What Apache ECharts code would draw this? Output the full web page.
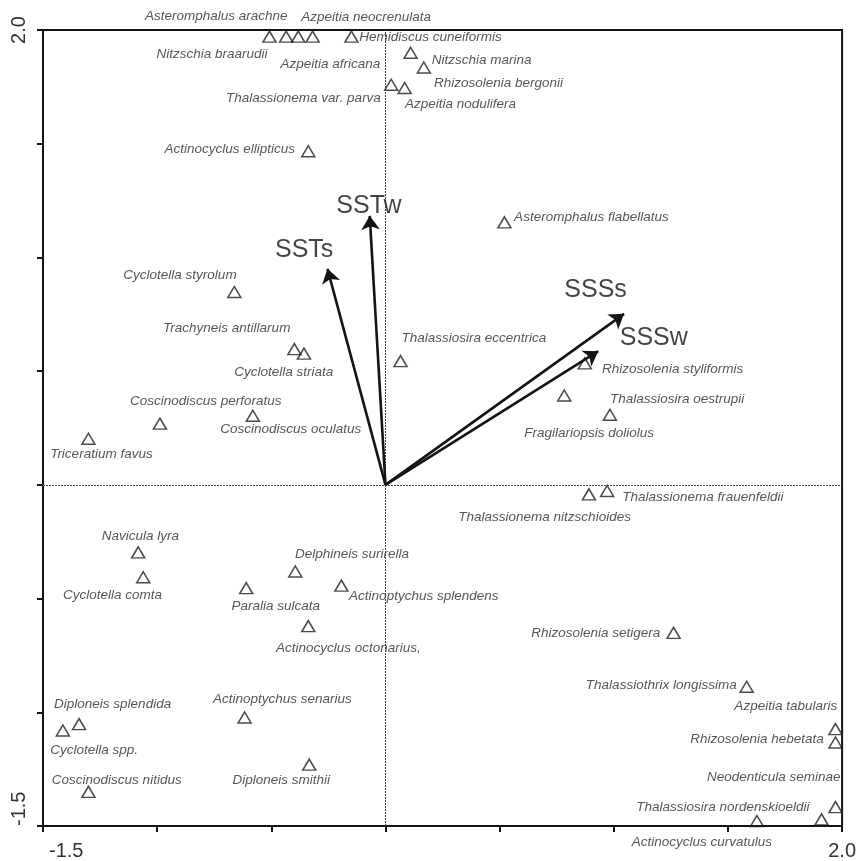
<!DOCTYPE html>
<html><head><meta charset="utf-8">
<script src="https://cdn.jsdelivr.net/npm/echarts@6/dist/echarts.min.js"></script>
<style>html,body{margin:0;padding:0;background:#fff;width:100%;height:100%;overflow:hidden}#c{width:100vw;height:100vh}</style>
</head><body><div id="c"></div>
<script>
// ---- data ----
const species = ['Asteromphalus arachne','Nitzschia braarudii','Azpeitia neocrenulata','Azpeitia africana','Hemidiscus cuneiformis','Rhizosolenia bergonii','Nitzschia marina','Thalassionema var. parva','Azpeitia nodulifera','Actinocyclus ellipticus','Asteromphalus flabellatus','Cyclotella styrolum','Trachyneis antillarum','Cyclotella striata','Thalassiosira eccentrica','Coscinodiscus perforatus','Coscinodiscus oculatus','Triceratium favus','Rhizosolenia styliformis','Thalassiosira oestrupii','Fragilariopsis doliolus','Thalassionema frauenfeldii','Thalassionema nitzschioides','Navicula lyra','Cyclotella comta','Delphineis surirella','Paralia sulcata','Actinoptychus splendens','Actinocyclus octonarius,','Actinoptychus senarius','Diploneis splendida','Cyclotella spp.','Coscinodiscus nitidus','Diploneis smithii','Rhizosolenia setigera','Thalassiothrix longissima','Azpeitia tabularis','Rhizosolenia hebetata','Neodenticula seminae','Thalassiosira nordenskioeldii','Actinocyclus curvatulus'];
const axis1 = [-0.508,-0.435,-0.382,-0.319,-0.149,0.110,0.168,0.025,0.084,-0.338,0.521,-0.662,-0.399,-0.357,0.066,-0.988,-0.581,-1.301,0.873,0.783,0.983,0.971,0.891,-1.083,-1.061,-0.395,-0.610,-0.193,-0.338,-0.617,-1.342,-1.413,-1.301,-0.334,1.262,1.582,1.971,1.971,1.910,1.971,1.627];
const axis2 = [1.971,1.971,1.971,1.971,1.971,1.900,1.835,1.759,1.745,1.467,1.154,0.848,0.597,0.577,0.544,0.269,0.304,0.203,0.534,0.393,0.308,-0.027,-0.042,-0.297,-0.406,-0.381,-0.454,-0.443,-0.621,-1.023,-1.052,-1.080,-1.350,-1.230,-0.651,-0.888,-1.074,-1.133,-1.471,-1.417,-1.478];
const envNames = ['SSTw','SSTs','SSSs','SSSw'];
const envX = [-0.069,-0.254,1.045,0.932];
const envY = [1.183,0.950,0.752,0.588];
const axisMin = -1.5, axisMax = 2.0, axisStep = 0.5;
const endLabels = {'-1.5':'-1.5','2':'2.0'};

// ---- label layout (px offsets from the symbol, alignment) ----
const labelLayout = [[18,-20.5,'right'],[-18.7,17.5,'right'],[3,-19.5,'left'],[67.7,27.5,'right'],[7.7,0.5,'left'],[23.3,30.3,'left'],[8,-7.7,'left'],[-10.3,13,'right'],[0.3,16.7,'left'],[-13.3,-1.7,'right'],[9.7,-5,'left'],[2.3,-16.6,'right'],[-4,-20.7,'right'],[29.3,18.7,'right'],[1,-22.7,'left'],[-30,-22.4,'left'],[-32.6,13.3,'left'],[-38.3,16,'left'],[17.3,6,'left'],[45.7,3.7,'left'],[-85.7,18.3,'left'],[15,6.7,'left'],[42,23.3,'right'],[2.2,-16,'center'],[-80.3,18,'left'],[-0.3,-17.6,'left'],[-14.7,18,'left'],[7.7,10.7,'left'],[-32.3,21.7,'left'],[-31.7,-18.3,'left'],[-25,-20,'left'],[-12.7,19.3,'left'],[-36.6,-11.7,'left'],[-76.7,15.7,'left'],[-13.4,0.7,'right'],[-10,-1.7,'right'],[1.7,-22.7,'right'],[-11.6,-3.3,'right'],[19,-42.3,'right'],[-26,-0.3,'right'],[-125.3,21,'left']];
const envLabelLayout = [[-0.7,-10],[-23.3,-19],[-28.5,-23.3],[55.5,-13.4]];

const FONT = '"Liberation Sans", Arial, Helvetica, sans-serif';
const INK = '#141414';

const chart = echarts.init(document.getElementById('c'), null, {renderer:'canvas'});

function endFmt(v){ const k = String(Math.round(v*10)/10); return endLabels[k] || ''; }

const axisCommon = {
  type:'value', min:axisMin, max:axisMax, interval:axisStep,
  axisLine:{show:true, onZero:false, lineStyle:{color:INK, width:2}},
  axisTick:{show:true, inside:false, length:6, lineStyle:{color:INK, width:2}},
  splitLine:{show:false}
};

chart.setOption({
  animation:false,
  backgroundColor:'#fff',
  grid:{left:43, right:14, top:30, bottom:31, show:true, borderColor:INK, borderWidth:2, containLabel:false},
  xAxis:Object.assign({}, axisCommon, {
    axisLabel:{show:true, margin:15, fontSize:20, color:'#333', fontFamily:FONT,
      alignMinLabel:'left', alignMaxLabel:'center',
      formatter:function(v){ const t=endFmt(v); return t==='-1.5' ? '{a|-1.5}' : t; },
      rich:{a:{fontSize:20, color:'#333', fontFamily:FONT, padding:[0,0,0,6]}}
    }
  }),
  yAxis:Object.assign({}, axisCommon, {
    axisLabel:{show:true, margin:14, rotate:90, fontSize:20, color:'#333', fontFamily:FONT,
      alignMinLabel:'left',
      formatter:endFmt
    }
  }),
  series:[
    {
      type:'scatter', name:'species', silent:true, clip:false, z:4,
      symbol:'triangle', symbolSize:[13,11],
      itemStyle:{color:'rgba(0,0,0,0)', borderColor:'#1e1e1e', borderWidth:1.5},
      data: species.map((n,i)=>({
        name:n, value:[axis1[i], axis2[i]],
        label:{show:true, position:['50%','50%'], offset:[labelLayout[i][0], labelLayout[i][1]],
          align:labelLayout[i][2], verticalAlign:'middle',
          formatter:n, fontStyle:'italic', fontSize:13.5, color:'#2b2b2b', fontFamily:FONT, textBorderWidth:0}
      })),
      markLine:{
        silent:true, symbol:['none','none'], label:{show:false},
        lineStyle:{type:[2,1], color:'#444', width:1},
        data:[{xAxis:0},{yAxis:0}]
      }
    },
    {
      type:'lines', coordinateSystem:'cartesian2d', silent:true, z:5,
      symbol:['none','arrow'], symbolSize:[8,14],
      lineStyle:{color:INK, width:2.6, opacity:1, curveness:0},
      data: envNames.map((n,i)=>({name:n, coords:[[0,0],[envX[i],envY[i]]]}))
    },
    {
      type:'scatter', name:'env', silent:true, clip:false, z:6,
      symbolSize:0,
      data: envNames.map((n,i)=>({
        name:n, value:[envX[i], envY[i]],
        label:{show:true, position:['50%','50%'], offset:envLabelLayout[i], align:'center', verticalAlign:'middle',
          formatter:n, fontSize:25, color:INK, fontFamily:FONT, textBorderWidth:0}
      }))
    }
  ]
});
</script>
</body></html>
